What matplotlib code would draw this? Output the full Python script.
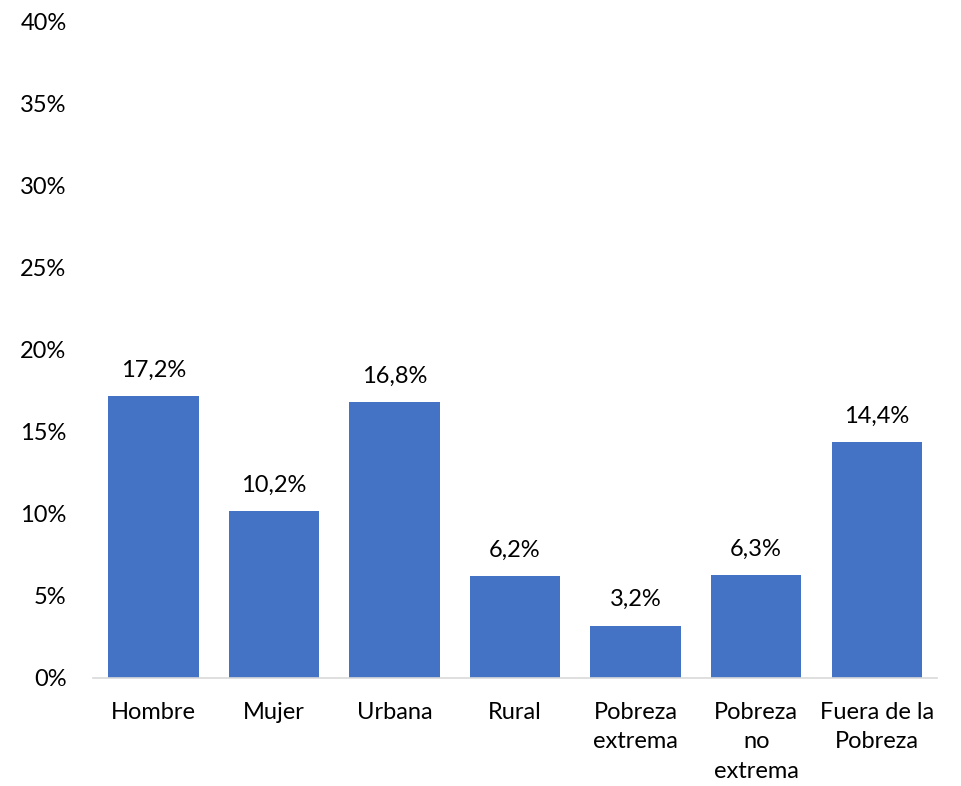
import matplotlib
matplotlib.use("Agg")
import matplotlib.pyplot as plt
from matplotlib.ticker import FuncFormatter

categories = ["Hombre", "Mujer", "Urbana", "Rural", "Pobreza\nextrema",
              "Pobreza\nno\nextrema", "Fuera de la\nPobreza"]
values = [17.2, 10.2, 16.8, 6.2, 3.2, 6.3, 14.4]
y_ticks = [0, 5, 10, 15, 20, 25, 30, 35, 40]

plt.rcParams['font.family'] = ['Lato', 'DejaVu Sans']

fig = plt.figure(figsize=(9.61, 7.86), dpi=100)
ax = fig.add_axes([93 / 961, 1 - 678 / 786, 844 / 961, (678 - 22) / 786])

x = range(len(categories))
bars = ax.bar(x, values, width=0.75, color="#4472C4")

# etiquetas de valor con coma decimal
for xi, v in zip(x, values):
    ax.annotate(f"{v:.1f}%".replace(".", ","), (xi, v), xytext=(0, 11),
                textcoords="offset points", ha="center", va="bottom", fontsize=17)

ax.set_xlim(-0.5, len(categories) - 0.5)
ax.set_ylim(0, 40)
ax.set_yticks(y_ticks)
ax.yaxis.set_major_formatter(FuncFormatter(lambda v, p: f"{v:.0f}%"))
ax.set_xticks(list(x))
ax.set_xticklabels(categories, fontsize=17, linespacing=1.5, va="top")
ax.tick_params(axis="y", length=0, labelsize=17, pad=19)
ax.tick_params(axis="x", length=0, pad=17)

for s in ["top", "right", "left"]:
    ax.spines[s].set_visible(False)
ax.spines["bottom"].set_color("#D9D9D9")
ax.spines["bottom"].set_linewidth(1.2)

fig.savefig("out.png", dpi=100)
